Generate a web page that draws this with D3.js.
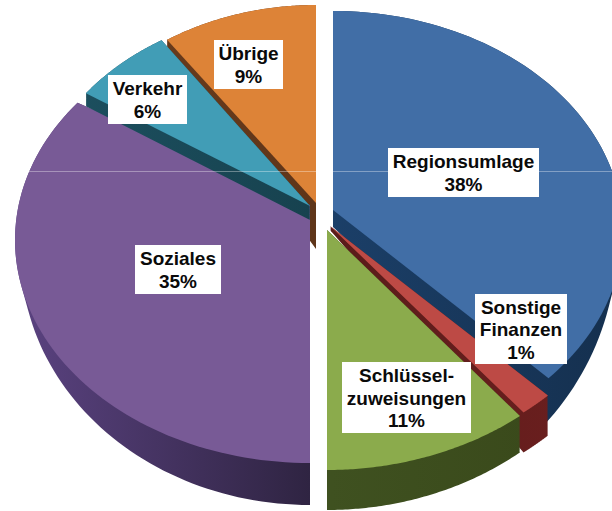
<!DOCTYPE html>
<html>
<head>
<meta charset="utf-8">
<script src="https://cdn.jsdelivr.net/npm/d3@7"></script>
<style>
    html, body { margin: 0; padding: 0; background: #fff; overflow: hidden; }
    text { font-family: "Liberation Sans", Arial, sans-serif; font-weight: bold; font-size: 19px; fill: #0a0a0a; }
</style>
</head>
<body>
<svg id="chart" width="612" height="511"></svg>
<script>
// ─── Data ─────────────────────────────────────────────────────────────────────
const categories = ["Regionsumlage", "Sonstige Finanzen", "Schlüsselzuweisungen", "Soziales", "Verkehr", "Übrige"];
const shares = [38, 1, 11, 35, 6, 9];
const labelLines = [["Regionsumlage"], ["Sonstige", "Finanzen"], ["Schlüssel-", "zuweisungen"], ["Soziales"], ["Verkehr"], ["Übrige"]];

// ─── Look ─────────────────────────────────────────────────────────────────────
const topColors = ["#416ea6", "#bd4a45", "#8bab4c", "#785a96", "#419db6", "#dd8337"];
const wallColors = [["#1b3f68", "#15304f"], ["#5a1c1a", "#6d1f1f"], ["#3f5120", "#384719"], ["#5a4280", "#2f2442"], ["#1d5262", "#17424f"], ["#6f4020", "#5f3519"]];

// Every slice is its own ellipse, the picture has perspective and the slices are pulled apart.
// ax/ay tip of the slice, cx/cy/rx/ry the rim, tipDrop/rimDrop/frontDrop the wall height
const sliceGeom = [
    {ax: 333, ay: 210, cx: 333, cy: 231, rx: 290, ry: 220, tipDrop: 17, rimDrop: 10, frontDrop: 55, shrink: 6, startNudge: 0, endNudge: -4.8},
    {ax: 330, ay: 226, cx: 331, cy: 222, rx: 310, ry: 243, tipDrop: 4, rimDrop: 40, frontDrop: 0, shrink: 0, startNudge: -1.2, endNudge: 1.2},
    {ax: 327, ay: 230, cx: 327, cy: 218, rx: 312, ry: 252, tipDrop: 3, rimDrop: 23, frontDrop: 17, shrink: 0, startNudge: 1.4, endNudge: 0},
    {ax: 310, ay: 205, cx: 310, cy: 240, rx: 295, ry: 223, tipDrop: 0, rimDrop: 15, frontDrop: 27, shrink: 6, startNudge: 0, endNudge: 2},
    {ax: 310, ay: 206, cx: 310, cy: 215, rx: 277, ry: 207, tipDrop: 14, rimDrop: 13, frontDrop: 0, shrink: 0, startNudge: 0, endNudge: 0},
    {ax: 316, ay: 203, cx: 316, cy: 229, rx: 278, ry: 224, tipDrop: 46, rimDrop: 7, frontDrop: 0, shrink: 0, startNudge: 0, endNudge: 0},
];

// white label boxes: left, top, right, bottom
const labelBoxes = [[388, 148, 539, 197], [475, 294, 567, 364], [342, 362, 471, 433], [135, 245, 221, 294], [108, 75, 187, 124], [214, 40, 283, 89]];
const LINE_HEIGHT = 22.5;

// ─── Drawing ──────────────────────────────────────────────────────────────────
const svg = d3.select("#chart");
const defs = svg.append("defs");

const pie = d3.pie().sort(null).value(d => d)(shares);
const line = d3.line();

// outline of a slice, t = 0 is the top face, t = 1 the bottom of the wall
function sliceOutline(i, t) {
    const g = sliceGeom[i];
    const start = pie[i].startAngle + g.startNudge * Math.PI / 180;
    const end = pie[i].endAngle + g.endNudge * Math.PI / 180;
    const angle = d3.scaleLinear().domain([0, 80]).range([start, end]);
    const rim = d3.range(81).map(k => {
        const a = angle(k);
        const drop = g.rimDrop + g.frontDrop * Math.max(0, -Math.cos(a));
        return [g.cx + (g.rx - t * g.shrink) * Math.sin(a), g.cy - g.ry * Math.cos(a) + t * drop];
    });
    return line([[g.ax, g.ay + t * g.tipDrop], ...rim]) + "Z";
}

function drawWall(i) {
    const id = `wall-${i}`;
    const grad = defs.append("linearGradient").attr("id", id)
        .attr("gradientUnits", "userSpaceOnUse")
        .attr("x1", 20).attr("x2", 310).attr("y1", 0).attr("y2", 0);
    if (i < 3) grad.attr("x1", 330).attr("x2", 612);
    grad.append("stop").attr("offset", 0).attr("stop-color", wallColors[i][0]);
    grad.append("stop").attr("offset", 1).attr("stop-color", wallColors[i][1]);

    svg.append("path")
        .attr("d", d3.range(41).map(k => sliceOutline(i, k / 40)).join(""))
        .attr("fill", `url(#${id})`);
}

function drawTop(i) {
    svg.append("path")
        .attr("class", "slice")
        .attr("d", sliceOutline(i, 0))
        .attr("fill", topColors[i]);
}

// back to front, the order matters where walls lie on the neighbouring face
[0].forEach(i => { drawWall(i); drawTop(i); });
drawWall(1);
drawWall(2);
drawTop(2);
drawTop(1);
drawWall(5);
drawWall(3);
drawTop(3);
drawWall(4);
drawTop(4);
drawTop(5);

// the thin light scan line that runs over the whole picture
svg.append("line")
    .attr("x1", 0).attr("x2", 612).attr("y1", 171.5).attr("y2", 171.5)
    .attr("stroke", "#fff").attr("stroke-opacity", 0.35).attr("stroke-width", 1);

// ─── Labels ───────────────────────────────────────────────────────────────────
categories.forEach((cat, i) => {
    const [x0, y0, x1, y1] = labelBoxes[i];
    const rows = [...labelLines[i], `${shares[i]}%`];
    const label = svg.append("g").attr("class", "label").attr("data-category", cat);

    label.append("rect")
        .attr("x", x0).attr("y", y0)
        .attr("width", x1 - x0).attr("height", y1 - y0)
        .attr("fill", "#fff");

    const firstBase = (y0 + y1) / 2 - (rows.length - 1) * LINE_HEIGHT / 2 + 7;
    rows.forEach((row, r) => {
        label.append("text")
            .attr("x", (x0 + x1) / 2)
            .attr("y", firstBase + r * LINE_HEIGHT)
            .attr("text-anchor", "middle")
            .text(row);
    });
});
</script>
</body>
</html>
